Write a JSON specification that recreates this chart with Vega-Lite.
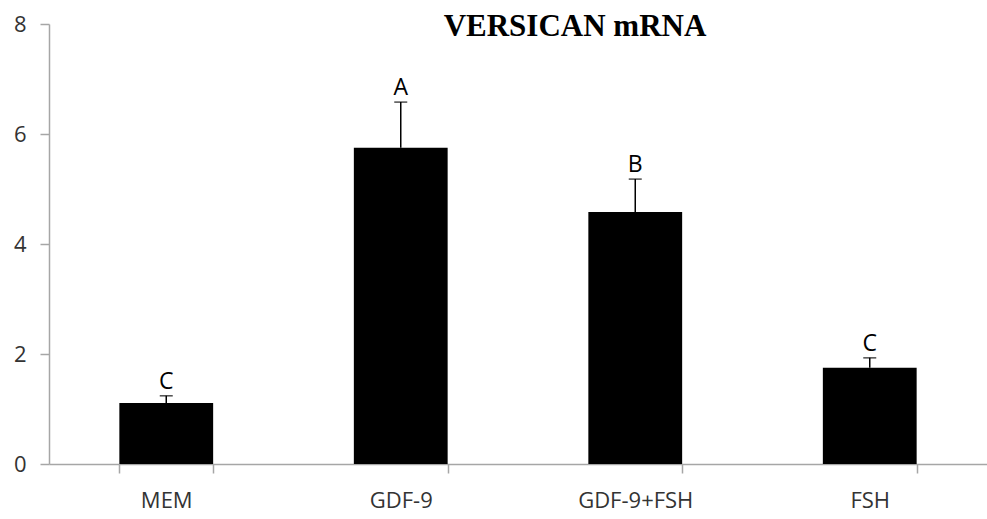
{
  "$schema": "https://vega.github.io/schema/vega-lite/v6.json",
  "autosize": "none",
  "padding": {"left": 49, "top": 24, "right": 0, "bottom": 55},
  "width": 938,
  "height": 440,
  "background": "white",
  "title": {
    "text": "VERSICAN mRNA",
    "font": "Liberation Serif",
    "fontSize": 31,
    "fontWeight": "bold",
    "color": "black",
    "anchor": "middle",
    "frame": "group",
    "offset": 0,
    "dx": 57,
    "dy": 30
  },
  "data": {
    "values": [
      {"group": "MEM", "mean": 1.11, "upper": 1.24, "letter": "C"},
      {"group": "GDF-9", "mean": 5.75, "upper": 6.58, "letter": "A"},
      {"group": "GDF-9+FSH", "mean": 4.58, "upper": 5.18, "letter": "B"},
      {"group": "FSH", "mean": 1.75, "upper": 1.93, "letter": "C"}
    ]
  },
  "config": {
    "view": {"stroke": null},
    "axis": {
      "labelFont": "Open Sans",
      "labelFontSize": 22,
      "labelColor": "#333333",
      "domainColor": "#a6a6a6",
      "tickColor": "#a6a6a6",
      "domainWidth": 1.5,
      "tickWidth": 1.5,
      "grid": false,
      "title": null
    }
  },
  "encoding": {
    "x": {
      "field": "group",
      "type": "nominal",
      "sort": null,
      "scale": {"paddingInner": 0.6, "paddingOuter": 0.3},
      "axis": {"labelAngle": 0, "tickBand": "extent", "tickSize": 9, "labelPadding": 17}
    }
  },
  "layer": [
    {
      "mark": {"type": "bar", "color": "black"},
      "encoding": {
        "y": {
          "field": "mean",
          "type": "quantitative",
          "scale": {"domain": [0, 8], "nice": false},
          "axis": {"values": [0, 2, 4, 6, 8], "tickSize": 9, "labelPadding": 14}
        }
      }
    },
    {
      "mark": {"type": "rule", "color": "black", "strokeWidth": 1.5},
      "encoding": {
        "y": {"field": "mean", "type": "quantitative"},
        "y2": {"field": "upper"}
      }
    },
    {
      "mark": {"type": "tick", "color": "black", "thickness": 1.5, "size": 13, "orient": "horizontal"},
      "encoding": {
        "y": {"field": "upper", "type": "quantitative"}
      }
    },
    {
      "mark": {"type": "text", "font": "Open Sans", "fontSize": 23, "color": "black", "baseline": "alphabetic", "dy": -7},
      "encoding": {
        "y": {"field": "upper", "type": "quantitative"},
        "text": {"field": "letter"}
      }
    }
  ]
}
